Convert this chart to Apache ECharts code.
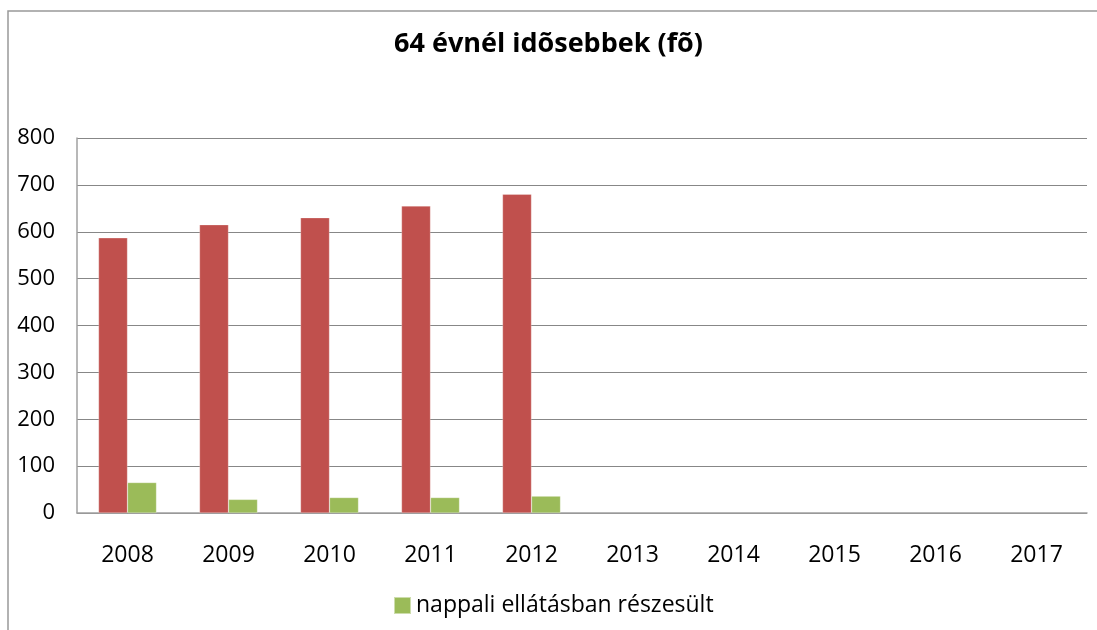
<!DOCTYPE html>
<html><head><meta charset="utf-8">
<script src="https://cdn.jsdelivr.net/npm/echarts@6/dist/echarts.min.js"></script>
<style>html,body{margin:0;padding:0;overflow:hidden;background:#fff}#c{width:1097px;height:630px}</style>
</head><body><div id="c"></div>
<script>
const titleText = '64 évnél idõsebbek (fõ)';
const categories = ['2008','2009','2010','2011','2012','2013','2014','2015','2016','2017'];
const seriesTotal = [587, 615, 630, 655, 680, null, null, null, null, null];
const seriesDay = [65, 29, 33, 33, 36, null, null, null, null, null];
const dayName = 'nappali ellátásban részesült';
const yTicks = [0, 100, 200, 300, 400, 500, 600, 700, 800];
const FONT = 'Open Sans';
const chart = echarts.init(document.getElementById('c'));
chart.setOption({
  animation: false,
  textStyle: {fontFamily: FONT},
  title: {text: titleText, left: 'center', top: 26,
    textStyle: {fontFamily: FONT, fontWeight: 'bold', fontSize: 27, color: '#000'}},
  legend: {data: [dayName], bottom: 8, left: 388, itemWidth: 17, itemHeight: 17, itemGap: 6,
    textStyle: {fontFamily: FONT, fontSize: 23, color: '#000'}, icon: 'rect'},
  grid: {left: 77, right: 10, top: 138, bottom: 117, containLabel: false},
  xAxis: {type: 'category', data: categories,
    axisLine: {lineStyle: {color: '#a0a0a0', width: 1.5}},
    axisTick: {show: false},
    axisLabel: {fontSize: 23, color: '#000', margin: 31, fontFamily: FONT}},
  yAxis: {type: 'value', min: yTicks[0], max: yTicks[yTicks.length-1], interval: 100,
    axisLine: {show: true, lineStyle: {color: '#a0a0a0', width: 1.5}},
    axisTick: {show: false},
    splitLine: {lineStyle: {color: '#878787', width: 1}},
    axisLabel: {fontSize: 22, color: '#000', margin: 22, fontFamily: FONT}},
  graphic: [{type: 'polyline', shape: {points: [[8, 640], [8, 11], [1100, 11]]},
    style: {stroke: '#999', lineWidth: 1.5, fill: null}}],
  series: [
    {type: 'bar', name: 'total', data: seriesTotal, barWidth: 29, barGap: '0%',
      itemStyle: {color: '#C0504D', borderColor: 'rgba(255,255,255,0.5)', borderWidth: 0.5}},
    {type: 'bar', name: dayName, data: seriesDay, barWidth: 29,
      itemStyle: {color: '#9BBB59', borderColor: 'rgba(255,255,255,0.5)', borderWidth: 0.5}}
  ]
});
</script></body></html>
